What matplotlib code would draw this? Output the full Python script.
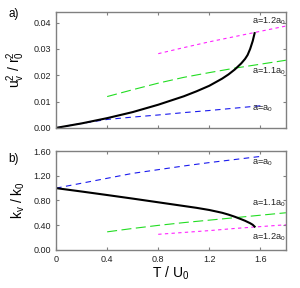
import matplotlib
matplotlib.use("Agg")
import matplotlib.pyplot as plt
from matplotlib.ticker import FormatStrFormatter

plt.rcParams.update({
    "font.family": "Liberation Sans",
    "mathtext.fontset": "custom",
    "mathtext.rm": "Liberation Sans",
    "mathtext.it": "Liberation Sans",
    "axes.edgecolor": "#808080",
    "axes.linewidth": 1.0,
    "xtick.direction": "in",
    "ytick.direction": "in",
    "xtick.top": True,
    "ytick.right": True,
    "xtick.color": "#808080",
    "ytick.color": "#808080",
    "xtick.labelcolor": "#222222",
    "ytick.labelcolor": "#222222",
    "xtick.labelsize": 6.5,
    "ytick.labelsize": 6.5,
    "xtick.major.size": 2.5,
    "ytick.major.size": 2.5,
})

# black curve (self-consistent solution)
T_self = [0, 0.2, 0.4, 0.6, 0.8, 1.0, 1.1, 1.2, 1.3, 1.35, 1.4, 1.45,
          1.48, 1.5, 1.52, 1.54, 1.555]
u_self = [0, 0.0017, 0.0037, 0.0060, 0.0088, 0.0120, 0.0139, 0.0160,
          0.0187, 0.0203, 0.0222, 0.0245, 0.0262, 0.0277, 0.0300,
          0.0330, 0.0360]
k_self = [1.0, 0.945, 0.888, 0.83, 0.77, 0.71, 0.68, 0.645, 0.60, 0.57,
          0.535, 0.495, 0.47, 0.45, 0.43, 0.405, 0.375]

# a = a0
T_a10 = [0, 0.2, 0.4, 0.6, 0.8, 1.0, 1.2, 1.4, 1.6]
u_a10 = [0, 0.0017, 0.0032, 0.0041, 0.0049, 0.0058, 0.0066, 0.0075, 0.0084]
k_a10 = [1.0, 1.08, 1.16, 1.24, 1.30, 1.36, 1.415, 1.465, 1.515]

# a = 1.1 a0
T_a11 = [0.4, 0.6, 0.8, 1.0, 1.2, 1.4, 1.6, 1.8]
u_a11 = [0.0119, 0.0145, 0.0170, 0.0192, 0.0210, 0.0227, 0.0242, 0.0257]
k_a11 = [0.29, 0.345, 0.395, 0.44, 0.48, 0.52, 0.56, 0.60]

# a = 1.2 a0
T_a12 = [0.8, 1.0, 1.2, 1.4, 1.6, 1.8]
u_a12 = [0.0282, 0.0305, 0.0327, 0.0347, 0.0367, 0.0387]
k_a12 = [0.25, 0.28, 0.31, 0.345, 0.375, 0.405]

BLUE = "#1a1aee"
GREEN = "#22dd22"
MAGENTA = "#ff22ff"

fig = plt.figure(figsize=(3.0, 2.88), dpi=100)
ax1 = fig.add_axes([0.187, 0.556, 0.766, 0.402])
ax2 = fig.add_axes([0.187, 0.133, 0.766, 0.342])

ax1.plot(T_a10, u_a10, color=BLUE, lw=0.8, dashes=(5, 4))
ax1.plot(T_a11, u_a11, color=GREEN, lw=0.8, dashes=(9, 4))
ax1.plot(T_a12, u_a12, color=MAGENTA, lw=0.8, dashes=(3, 3))
ax1.plot(T_self, u_self, color="black", lw=1.5)

ax2.plot(T_a10, k_a10, color=BLUE, lw=0.8, dashes=(5, 4))
ax2.plot(T_a11, k_a11, color=GREEN, lw=0.8, dashes=(9, 4))
ax2.plot(T_a12, k_a12, color=MAGENTA, lw=0.8, dashes=(3, 3))
ax2.plot(T_self, k_self, color="black", lw=1.5)

lab_kw = dict(fontsize=6.6, color="#222222", ha="left", va="center")
ax1.text(1.535, 0.0406, r"a=1.2a$_0$", **lab_kw)
ax1.text(1.535, 0.0215, r"a=1.1a$_0$", **lab_kw)
ax1.text(1.535, 0.0073, r"a=a$_0$", **lab_kw)
ax2.text(1.535, 1.41, r"a=a$_0$", **lab_kw)
ax2.text(1.535, 0.756, r"a=1.1a$_0$", **lab_kw)
ax2.text(1.535, 0.20, r"a=1.2a$_0$", **lab_kw)

ax1.set_xlim(0, 1.8)
ax1.set_ylim(0, 0.044)
ax1.set_xticks([0, 0.4, 0.8, 1.2, 1.6])
ax1.set_xticklabels([])
ax1.set_yticks([0, 0.01, 0.02, 0.03, 0.04])
ax1.yaxis.set_major_formatter(FormatStrFormatter("%.2f"))
ax1.set_ylabel(r"u$_\mathrm{v}^{\mathrm{2}}$ / r$_\mathrm{0}^{\mathrm{2}}$",
               fontsize=10, labelpad=5)

ax2.set_xlim(0, 1.8)
ax2.set_ylim(0, 1.6)
ax2.set_xticks([0, 0.4, 0.8, 1.2, 1.6])
ax2.set_xticklabels(["0", "0.4", "0.8", "1.2", "1.6"])
ax2.set_yticks([0, 0.4, 0.8, 1.2, 1.6])
ax2.yaxis.set_major_formatter(FormatStrFormatter("%.2f"))
ax2.set_ylabel(r"k$_\mathrm{v}$ / k$_\mathrm{0}$", fontsize=10, labelpad=5)
ax2.set_xlabel(r"T / U$_\mathrm{0}$", fontsize=10, labelpad=1)

fig.text(0.027, 0.952, "a)", fontsize=8.5, ha="left", va="center")
fig.text(0.027, 0.448, "b)", fontsize=8.5, ha="left", va="center")

fig.savefig("out.png", dpi=100)
